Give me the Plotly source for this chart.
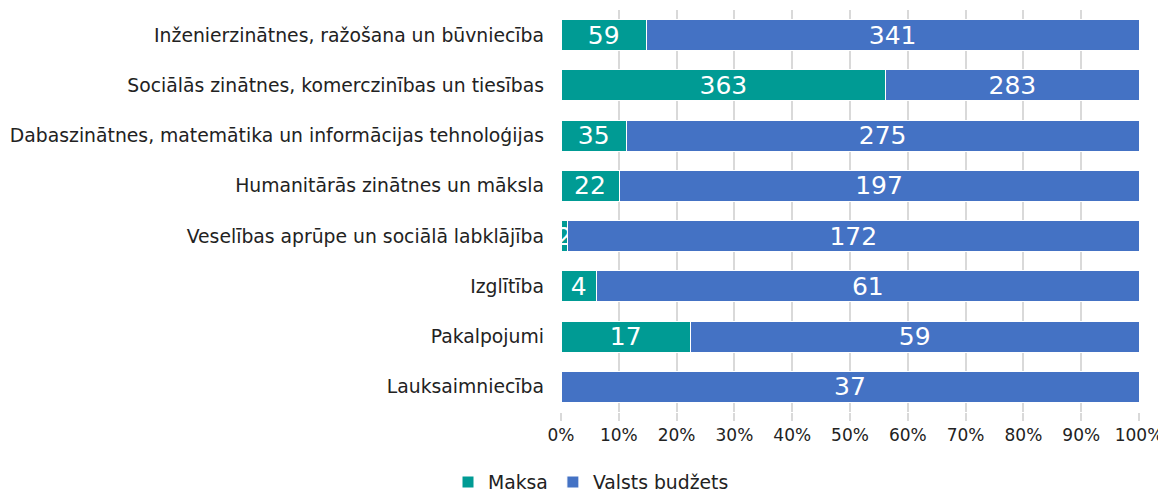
import plotly.graph_objects as go

categories = [
    "Inženierzinātnes, ražošana un būvniecība",
    "Sociālās zinātnes, komerczinības un tiesības",
    "Dabaszinātnes, matemātika un informācijas tehnoloģijas",
    "Humanitārās zinātnes un māksla",
    "Veselības aprūpe un sociālā labklājība",
    "Izglītība",
    "Pakalpojumi",
    "Lauksaimniecība",
]
maksa = [59, 363, 35, 22, 2, 4, 17, 0]
valsts = [341, 283, 275, 197, 172, 61, 59, 37]
tick_vals = [0, 10, 20, 30, 40, 50, 60, 70, 80, 90, 100]
tick_text = [f"{v}%" for v in tick_vals]

FONT = "DejaVu Sans, Verdana, sans-serif"

def labels(vals):
    return [str(v) if v > 0 else "" for v in vals]

fig = go.Figure()
fig.add_trace(go.Bar(
    y=categories, x=maksa, orientation="h", name="Maksa",
    marker=dict(color="#009B94", line=dict(color="white", width=1)),
    text=labels(maksa), textposition="inside", insidetextanchor="middle", textangle=0,
    textfont=dict(color="white", size=25, family=FONT),
    hoverinfo="x+y",
))
fig.add_trace(go.Bar(
    y=categories, x=valsts, orientation="h", name="Valsts budžets",
    marker=dict(color="#4472C4", line=dict(color="white", width=1)),
    text=labels(valsts), textposition="inside", insidetextanchor="middle", textangle=0,
    textfont=dict(color="white", size=25, family=FONT),
    hoverinfo="x+y",
))

fig.update_layout(
    barmode="stack", barnorm="percent", bargap=0.38,
    width=1158, height=492,
    margin=dict(l=553, r=27, t=2, b=88, autoexpand=False),
    paper_bgcolor="white", plot_bgcolor="white",
    font=dict(family=FONT, size=18.8, color="#222222"),
    uniformtext=dict(mode="show", minsize=25),
    legend=dict(orientation="h", x=583 / 1158, xanchor="center", xref="container",
                y=0.036, yanchor="middle", yref="container",
                font=dict(size=18.8), traceorder="normal"),
    showlegend=True,
)
fig.update_xaxes(
    range=[0, 100], tickvals=tick_vals, ticktext=tick_text,
    showgrid=True, gridcolor="#d9d9d9", gridwidth=2,
    ticks="outside", ticklen=8, tickcolor="#d9d9d9", tickwidth=2,
    zeroline=False, showline=False, tickfont=dict(size=17), fixedrange=True,
    automargin=False,
)
fig.update_yaxes(
    autorange="reversed", showgrid=False, ticks="", showline=False,
    ticklabelstandoff=16, tickfont=dict(size=18.8), fixedrange=True,
    automargin=False,
)

fig.write_html("out.html")
